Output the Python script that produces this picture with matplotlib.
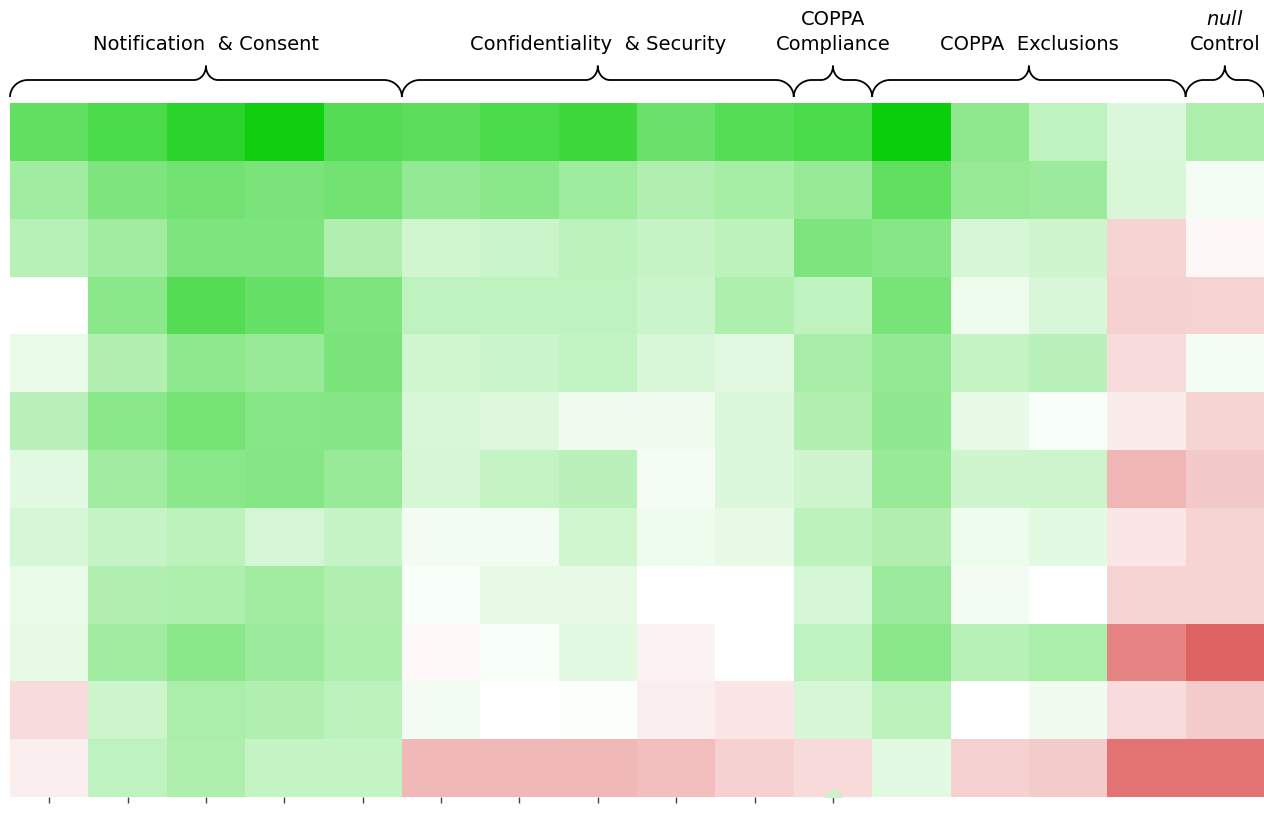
import numpy as np
import matplotlib
matplotlib.use('Agg')
import matplotlib.pyplot as plt
from matplotlib.colors import LinearSegmentedColormap

# column groups along the top
group_names = ['Notification  & Consent', 'Confidentiality  & Security',
               'COPPA\nCompliance', 'COPPA  Exclusions', '$\\it{null}$\nControl']
group_sizes = [5, 5, 1, 4, 1]

# scores, one row per line of the grid (positive = green, negative = red)
scores = [
    [0.62, 0.71, 0.83, 0.93, 0.67, 0.64, 0.71, 0.76, 0.58, 0.66, 0.71, 0.96, 0.44, 0.25, 0.14, 0.32],
    [0.37, 0.50, 0.55, 0.52, 0.55, 0.42, 0.46, 0.38, 0.31, 0.35, 0.41, 0.62, 0.41, 0.39, 0.15, 0.04],
    [0.28, 0.37, 0.50, 0.50, 0.31, 0.18, 0.21, 0.26, 0.22, 0.26, 0.50, 0.47, 0.16, 0.19, -0.22, -0.04],
    [0.00, 0.46, 0.67, 0.60, 0.50, 0.25, 0.25, 0.25, 0.21, 0.32, 0.25, 0.53, 0.07, 0.15, -0.24, -0.23],
    [0.08, 0.30, 0.44, 0.40, 0.52, 0.18, 0.21, 0.24, 0.15, 0.12, 0.34, 0.42, 0.23, 0.27, -0.18, 0.04],
    [0.27, 0.46, 0.54, 0.47, 0.48, 0.15, 0.13, 0.06, 0.06, 0.14, 0.30, 0.43, 0.10, 0.03, -0.10, -0.22],
    [0.11, 0.36, 0.46, 0.48, 0.40, 0.16, 0.23, 0.27, 0.04, 0.14, 0.19, 0.40, 0.19, 0.20, -0.38, -0.28],
    [0.16, 0.22, 0.26, 0.17, 0.22, 0.05, 0.05, 0.18, 0.07, 0.10, 0.26, 0.31, 0.07, 0.11, -0.13, -0.22],
    [0.09, 0.30, 0.32, 0.36, 0.31, 0.03, 0.10, 0.10, 0.00, 0.00, 0.16, 0.39, 0.05, 0.00, -0.22, -0.22],
    [0.10, 0.36, 0.46, 0.39, 0.32, -0.035, 0.03, 0.11, -0.07, 0.00, 0.25, 0.46, 0.28, 0.33, -0.64, -0.80],
    [-0.18, 0.20, 0.33, 0.31, 0.26, 0.05, 0.00, 0.01, -0.09, -0.13, 0.16, 0.26, 0.00, 0.055, -0.18, -0.27],
    [-0.09, 0.25, 0.32, 0.23, 0.23, -0.36, -0.36, -0.36, -0.33, -0.24, -0.19, 0.11, -0.24, -0.27, -0.72, -0.72],
]
n_ticks = 11
marker_col = 10

W, H = 1264, 818
fig = plt.figure(figsize=(W / 100, H / 100), dpi=100)
ax = fig.add_axes([10 / W, (H - 797) / H, (W - 10) / W, (797 - 103) / H])

cmap = LinearSegmentedColormap.from_list('rwg', ['#d83d3d', '#ffffff', '#00cc00'])
data = np.array(scores)
nrows, ncols = data.shape
ax.pcolormesh(np.arange(ncols + 1), np.arange(nrows + 1), data,
              cmap=cmap, vmin=-1, vmax=1)
ax.set_xlim(0, ncols)
ax.set_ylim(nrows, 0)
for s in ax.spines.values():
    s.set_visible(False)
ax.set_yticks([])
ax.set_xticks(np.arange(n_ticks) + 0.5)
ax.set_xticklabels([])
ax.tick_params(axis='x', length=4, width=1, color='#444444')

# small marker sitting on the bottom edge
ax.plot(marker_col + 0.5, nrows, linestyle='none',
        marker=[(-1, 0), (1, 0), (0, 1)], ms=13, color='#c8f5c8', clip_on=True)

# overlay in pixel coords for braces and group titles
bx = fig.add_axes([0, 0, 1, 1])
bx.set_xlim(0, W)
bx.set_ylim(H, 0)
bx.axis('off')


def brace(x0, x1, y_end=97, y_flat=80, y_tip=66, r_end=18, r_mid=12):
    xm = (x0 + x1) / 2
    t = np.linspace(0, np.pi / 2, 30)
    # left curl, flat, cusp up to the tip
    lx = x0 + r_end - r_end * np.cos(t)
    ly = y_end + (y_flat - y_end) * np.sin(t)
    cx = xm - r_mid + r_mid * np.sin(t)
    cy = y_tip - (y_tip - y_flat) * np.cos(t)
    xs = np.concatenate([lx, cx])
    ys = np.concatenate([ly, cy])
    xs = np.concatenate([xs, (2 * xm - xs)[::-1]])
    ys = np.concatenate([ys, ys[::-1]])
    bx.plot(xs, ys, color='black', lw=1.3, solid_capstyle='butt')
    return xm


start = 0
for name, size in zip(group_names, group_sizes):
    px0 = ax.transData.transform((start, 0))[0]
    px1 = ax.transData.transform((start + size, 0))[0]
    xm = brace(px0, px1)
    lines = name.split('\n')
    for i, line in enumerate(lines):
        yb = 50 - 25 * (len(lines) - 1 - i)
        bx.text(xm, yb, line, ha='center', va='baseline', fontsize=14)
    start += size

fig.savefig('out.png', dpi=100)
